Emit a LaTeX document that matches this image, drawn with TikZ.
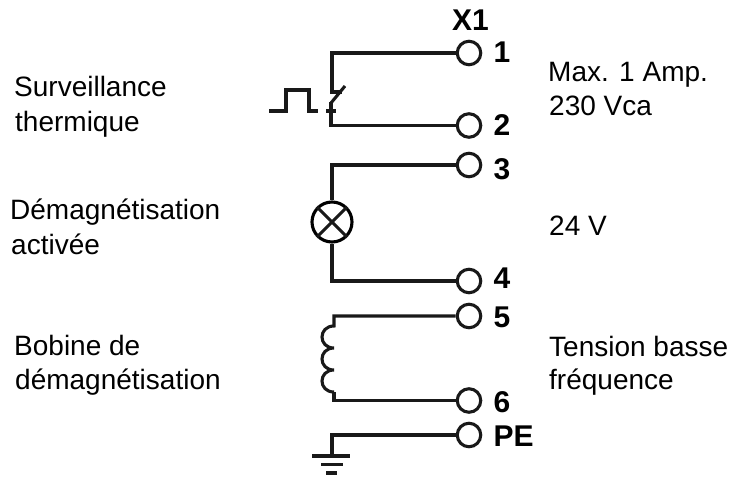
\documentclass[tikz,border=0pt]{standalone}
\usepackage{fontspec}
\setmainfont{Liberation Sans}
\begin{document}
\begin{tikzpicture}[x=1pt,y=-1pt,line join=miter,
  wire/.style={draw=black!90,line width=3.1pt},
  terminal/.style={circle,draw=black!90,line width=3.1pt,fill=white,minimum size=23.5pt,inner sep=0pt},
  lampbody/.style={circle,draw=black,line width=3.1pt,minimum size=40pt,inner sep=0pt},
  label/.style={anchor=base west,inner sep=0pt,font=\fontsize{28}{28}\selectfont},
  pin/.style={anchor=base west,inner sep=0pt,font=\fontsize{30}{30}\selectfont\bfseries}]
\useasboundingbox (0,0) rectangle (735,476);
% terminals
\node[terminal] (t1) at (469,53) {};
\node[terminal] (t2) at (469,125.5) {};
\node[terminal] (t3) at (469,165) {};
\node[terminal] (t4) at (469,281) {};
\node[terminal] (t5) at (469,316) {};
\node[terminal] (t6) at (469,400.5) {};
\node[terminal] (tpe) at (469,435) {};
% pin labels
\node[pin] (x1) at (452,31) {X1};
\node[pin] (p1) at (493.5,63) {1};
\node[pin] (p2) at (493.5,135) {2};
\node[pin] (p3) at (493.5,179) {3};
\node[pin] (p4) at (493.5,288) {4};
\node[pin] (p5) at (493.5,327) {5};
\node[pin] (p6) at (493.5,412) {6};
\node[pin] (ppe) at (493.5,446) {PE};
% switch
\coordinate (s1) at (332,92);
\coordinate (s2) at (331,102);
\draw[wire] (t1.west) -| (s1) -- (342,92);
\draw[wire] (t2.west) -| (s2);
\draw[wire] (331,103) -- (345,86);
\draw[wire] (326,111) -- (336,111);
\draw[wire] (269,111) -- (286,111) -- (286,90) -- (309,90) -- (309,111) -- (318,111);
% lamp
\node[lampbody] (lamp) at (332,222) {};
\draw[wire] (t3.west) -| (lamp.north);
\draw[wire] (t4.west) -| (lamp.south);
\draw[wire] (lamp.45) -- (lamp.225);
\draw[wire] (lamp.135) -- (lamp.315);
% coil
\coordinate (c0) at (334,326);
\coordinate (c3) at (334,392);
\draw[wire] (t5.west) -| (c0)
  .. controls (318,326) and (318,348) .. (334,348)
  .. controls (318,348) and (318,370) .. (334,370)
  .. controls (318,370) and (318,392) .. (c3);
\draw[wire] (t6.west) -| (c3);
% earth
\coordinate (e) at (332,456);
\draw[wire] (tpe.west) -| (e);
\draw[wire] (312,456) -- (350,456);
\draw[wire] (321,464.5) -- (343,464.5);
\draw[wire] (326,473) -- (337,473);
% texts
\node[label] (a1) at (14,97) {Surveillance};
\node[label] (a2) at (15,131) {thermique};
\node[label] (b1) at (10,219) {Démagnétisation};
\node[label] (b2) at (11,254) {activée};
\node[label] (c1) at (14,355) {Bobine de};
\node[label] (c2) at (15,389) {démagnétisation};
\node[label] (d1) at (548,82) {Max. 1 Amp.};
\node[label] (d2) at (549,115) {230 Vca};
\node[label] (e1) at (549,235) {24 V};
\node[label] (f1) at (549,356) {Tension basse};
\node[label] (f2) at (549,389) {fréquence};
\end{tikzpicture}
\end{document}
